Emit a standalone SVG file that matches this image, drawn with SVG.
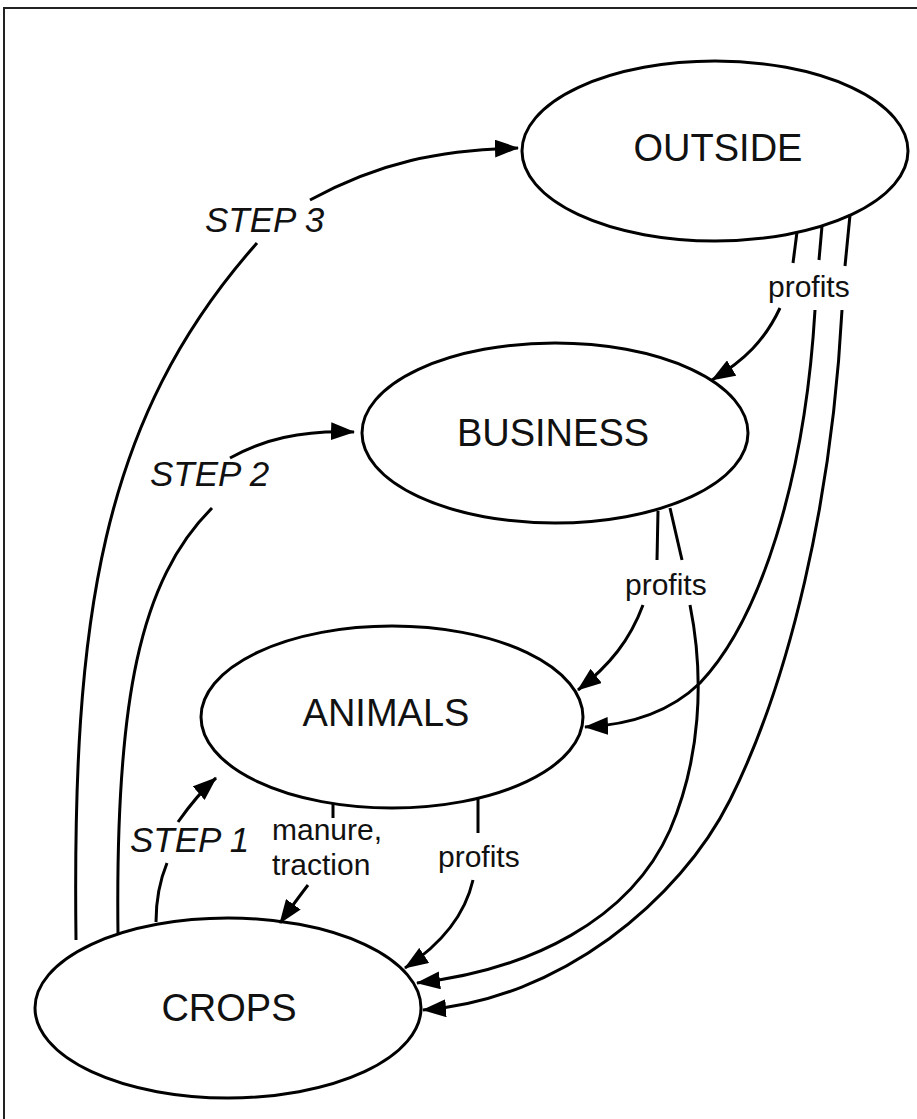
<svg xmlns="http://www.w3.org/2000/svg" width="917" height="1119" viewBox="0 0 917 1119">
<style>
.node{fill:#fff;stroke:#000;stroke-width:3}
.nl{font-family:"Liberation Sans",Arial,sans-serif;font-size:38px;fill:#111;text-anchor:middle}
.step{font-family:"Liberation Sans",Arial,sans-serif;font-size:35px;font-style:italic;fill:#111}
.lab{font-family:"Liberation Sans",Arial,sans-serif;font-size:30px;fill:#111}
.c{fill:none;stroke:#000;stroke-width:3}
.a{marker-end:url(#ah)}
</style>
<defs>
<marker id="ah" viewBox="0 0 24 18" refX="23" refY="9" markerWidth="24" markerHeight="18" markerUnits="userSpaceOnUse" orient="auto">
<path d="M0,0 L24,9 L0,18 Z" fill="#000"/>
</marker>
</defs>
<rect width="917" height="1119" fill="#fff"/>
<path d="M4,1119 V8 H917" fill="none" stroke="#222" stroke-width="2"/>

<g id="outside">
<ellipse class="node" cx="715" cy="151" rx="193" ry="90"/>
<text class="nl" x="718" y="161">OUTSIDE</text>
</g>
<g id="business">
<ellipse class="node" cx="555" cy="433" rx="193" ry="90"/>
<text class="nl" x="553" y="446">BUSINESS</text>
</g>
<g id="animals">
<ellipse class="node" cx="392" cy="717" rx="191" ry="91"/>
<text class="nl" x="386" y="726">ANIMALS</text>
</g>
<g id="crops">
<ellipse class="node" cx="228" cy="1008" rx="193" ry="90"/>
<text class="nl" x="229" y="1021">CROPS</text>
</g>

<g id="connectors">
<path class="c" d="M76,940 C72,620 100,420 257,243"/>
<path class="c a" d="M310,200 C380,162 440,150 518,148"/>
<path class="c" d="M118,935 C115,700 140,580 212,508"/>
<path class="c a" d="M230,458 C262,440 300,430 354,432"/>
<path class="c" d="M156,922 C156,900 160,880 167,863"/>
<path class="c a" d="M178,822 C190,805 200,792 216,778"/>
<path class="c" d="M333,803 L333,818"/>
<path class="c a" d="M308,885 C298,898 290,909 280,923"/>
<path class="c" d="M478,797 L478,833"/>
<path class="c a" d="M473,880 C465,915 440,945 405,968"/>
<path class="c" d="M797,232 L793,263"/>
<path class="c" d="M822,226 L819,260"/>
<path class="c" d="M850,215 L845,266"/>
<path class="c a" d="M780,308 C765,340 745,360 712,380"/>
<path class="c a" d="M815,310 C805,480 760,620 700,683 C670,712 630,725 585,727"/>
<path class="c a" d="M842,310 C832,500 790,680 730,800 C680,900 560,1000 423,1010"/>
<path class="c" d="M658,511 L657,560"/>
<path class="c" d="M670,508 L682,560"/>
<path class="c a" d="M643,605 C630,640 610,665 578,690"/>
<path class="c a" d="M690,605 C705,680 700,760 670,830 C630,920 530,970 417,983"/>
</g>

<g id="labels">
<text class="step" x="205" y="232">STEP 3</text>
<text class="step" x="150" y="486">STEP 2</text>
<text class="step" x="130" y="852">STEP 1</text>
<text class="lab" x="768" y="297">profits</text>
<text class="lab" x="625" y="595">profits</text>
<text class="lab" x="272" y="840">manure,</text>
<text class="lab" x="272" y="875">traction</text>
<text class="lab" x="438" y="867">profits</text>
</g>
</svg>
